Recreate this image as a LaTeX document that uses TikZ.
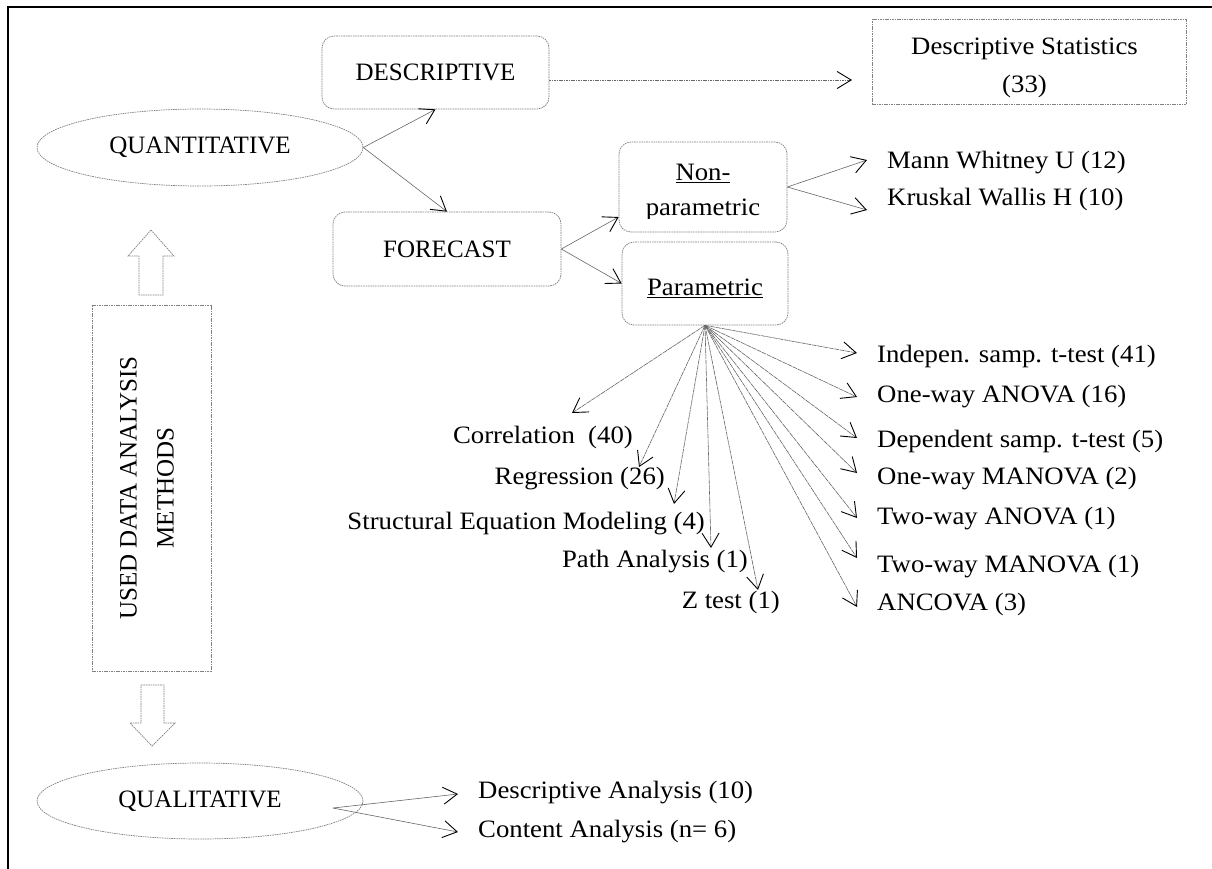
\documentclass[tikz,border=0pt]{standalone}
\usepackage{fontspec}
\setmainfont{Liberation Serif}[FakeStretch=1.07]
\newfontfamily\capsf{Liberation Serif}
\usetikzlibrary{arrows.meta,shapes.geometric}
\newcommand{\myul}[1]{\setbox0\hbox{#1}\rlap{\rule[-2.5pt]{\wd0}{0.9pt}}\box0}
\begin{document}
\begin{tikzpicture}[x=1pt,y=-1pt,
  font=\fontsize{25}{36}\selectfont,
  capsfont/.style={font=\capsf\fontsize{25}{37}\selectfont},
  box/.style={draw=black!50, dash pattern=on 1.6pt off 0.8pt, line width=0.7pt, inner sep=0pt},
  rbox/.style={box, rounded corners=12pt},
  oval/.style={box, ellipse},
  lbl/.style={inner sep=0pt, text height=17pt, text depth=5.5pt},
  conn/.style={draw=black!60, line width=0.6pt, -{Straight Barb[length=14pt,width=17pt,line width=0.9pt,color=black]}},
  fan/.style={conn, dash pattern=on 5pt off 0.7pt},
  hollow/.style={draw=black!50, dash pattern=on 1.6pt off 0.8pt, line width=0.7pt, fill=white},
]
\useasboundingbox (0,0) rectangle (1212,868);
% outer frame
\draw[line width=2.5pt] (1225,7) -- (8,7) -- (8,880);

% main nodes
\node[oval, capsfont, minimum width=326pt, minimum height=77pt] (quant) at (200,147.5) {QUANTITATIVE};
\node[oval, capsfont, minimum width=326pt, minimum height=76pt] (qual) at (200,801) {QUALITATIVE};
\node[rbox, capsfont, minimum width=227pt, minimum height=73pt] (desc) at (435.5,72.5) {DESCRIPTIVE};
\node[rbox, capsfont, minimum width=228pt, minimum height=74pt] (fore) at (447,249) {FORECAST};
\node[box, minimum width=314pt, minimum height=85pt] (ds) at (1029,61.5) {};
\node[align=center, inner sep=0pt, font=\fontsize{25}{38}\selectfont] (dstext) at (1024.5,68) {Descriptive Statistics\\(33)};
\node[rbox, minimum width=168pt, minimum height=90pt] (non) at (703,187) {};
\begin{scope}
  \clip (619,142) rectangle (787,218);
  \node[align=center, inner sep=0pt, font=\fontsize{25}{35}\selectfont] (nontext) at (703,192) {\myul{Non-}\\parametric};
\end{scope}
\node[rbox, minimum width=166pt, minimum height=83pt] (param) at (705,283.5) {};
\node[inner sep=0pt] (paramtext) at (705,288) {\myul{Parametric}};
\node[box, minimum width=119pt, minimum height=366pt] (used) at (151.5,488) {};
\node[align=center, inner sep=0pt, rotate=90, font=\capsf\fontsize{25}{37}\selectfont] (usedtext) at (147,488) {USED DATA ANALYSIS\\METHODS};

% hollow block arrows
\draw[hollow] (151,230) -- (174,256) -- (163,256) -- (163,295) -- (139,295) -- (139,256) -- (128,256) -- cycle;
\draw[hollow] (141,685) -- (164,685) -- (164,723) -- (175,723) -- (152,746) -- (130,723) -- (141,723) -- cycle;

% labels
\node[lbl, anchor=west] (mann) at (887,163) {Mann Whitney U (12)};
\node[lbl, anchor=west] (krus) at (887,200) {Kruskal Wallis H (10)};
\node[lbl, anchor=west] (indep) at (877,357) {Indepen. samp. t-test (41)};
\node[lbl, anchor=west] (anova1) at (877,397) {One-way ANOVA (16)};
\node[lbl, anchor=west] (dep) at (877,442) {Dependent samp. t-test (5)};
\node[lbl, anchor=west] (manova1) at (877,479) {One-way MANOVA (2)};
\node[lbl, anchor=west] (anova2) at (877,519) {Two-way ANOVA (1)};
\node[lbl, anchor=west] (manova2) at (877,567) {Two-way MANOVA (1)};
\node[lbl, anchor=west] (ancova) at (877,605) {ANCOVA (3)};
\node[lbl, anchor=east] (corr) at (633,438) {Correlation\ \ (40)};
\node[lbl, anchor=east] (regr) at (665,479) {Regression (26)};
\node[lbl, anchor=east] (sem) at (705,524) {Structural Equation Modeling (4)};
\node[lbl, anchor=east] (path) at (748,562) {Path Analysis (1)};
\node[lbl, anchor=east] (ztest) at (780,603) {Z test (1)};
\node[lbl, anchor=west] (qda) at (478,793) {Descriptive Analysis (10)};
\node[lbl, anchor=west] (qca) at (478,832) {Content Analysis (n= 6)};

% free arrow ends
\coordinate (dsin) at (852,80);
\coordinate (tmann) at (867,160);
\coordinate (tkrus) at (867,210);
\coordinate (tcorr) at (572,413);
\coordinate (tregr) at (639,467);
\coordinate (tsem) at (674,504);
\coordinate (tpath) at (711,548);
\coordinate (tz) at (758,590);
\coordinate (tindep) at (857,353);
\coordinate (tanova1) at (857,397);
\coordinate (tdep) at (857,438);
\coordinate (tmanova1) at (857,473);
\coordinate (tanova2) at (857,518);
\coordinate (tmanova2) at (857,558);
\coordinate (tancova) at (857,607);
\coordinate (qs) at (333,808);
\coordinate (tqda) at (458,794);
\coordinate (tqca) at (458,832);

% connectors
\draw[conn] (quant.east) -- (desc.south);
\draw[conn] (quant.east) -- (fore.north);
\draw[conn, dash pattern=on 1.6pt off 0.8pt] ([yshift=-7.5pt]desc.east) -- (dsin);
\draw[conn] (fore.east) -- ([yshift=-30pt]non.west);
\draw[conn] (fore.east) -- (param.west);
\draw[conn] (non.east) -- (tmann);
\draw[conn] (non.east) -- (tkrus);
\foreach \t in {tcorr,tregr,tsem,tpath,tz,tindep,tanova1,tdep,tmanova1,tanova2,tmanova2,tancova}
  \draw[fan] (param.south) -- (\t);
\draw[conn] (qs) -- (tqda);
\draw[conn] (qs) -- (tqca);
\end{tikzpicture}
\end{document}
